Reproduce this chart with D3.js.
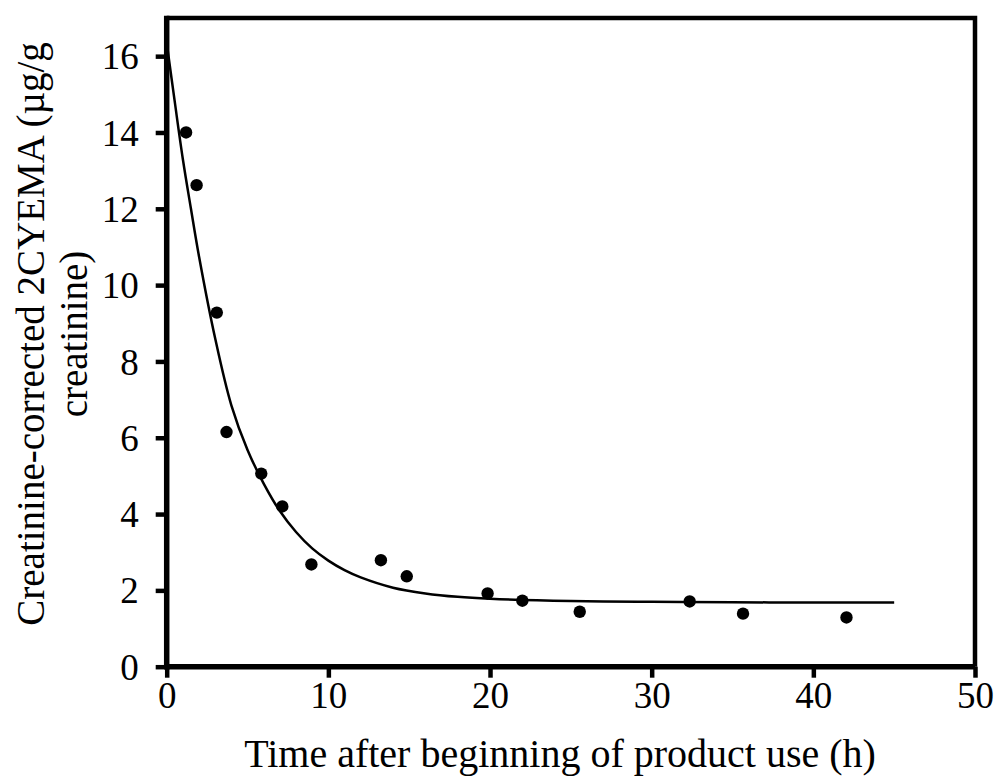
<!DOCTYPE html>
<html>
<head>
<meta charset="utf-8">
<script src="https://d3js.org/d3.v7.min.js"></script>
<style>
    body { margin: 0; background: #fff; }
    text { font-family: "Liberation Serif", "Times New Roman", serif; fill: #000; }
</style>
</head>
<body>
<svg width="995" height="780"></svg>
<script>
// Measured points: time (h) and creatinine-corrected 2CYEMA
var pointTimes = [1.2, 1.85, 3.1, 3.7, 5.85, 7.15, 8.95, 13.25, 14.85, 19.85, 22.0, 25.55, 32.35, 35.65, 42.05];
var pointValues = [14.0, 12.62, 9.28, 6.15, 5.06, 4.2, 2.68, 2.79, 2.37, 1.92, 1.73, 1.44, 1.71, 1.39, 1.29];

// Fitted curve
var curveTimes = [0, 0.5, 1, 1.5, 2, 3, 4, 5, 6, 7, 8, 9, 10, 11, 12, 14, 16, 18, 20, 25, 30, 35, 40, 45];
var curveValues = [16.35, 14.8, 13.3, 12.0, 10.75, 8.6, 6.85, 5.68, 4.8, 4.08, 3.53, 3.1, 2.78, 2.53, 2.34, 2.07, 1.92, 1.83, 1.78, 1.72, 1.7, 1.69, 1.68, 1.68];

// Tick labels
var xTicks = [0, 10, 20, 30, 40, 50];
var yTicks = [0, 2, 4, 6, 8, 10, 12, 14, 16];

var svg = d3.select('svg');

// Plot area in page pixels
var plot = {l: 166.7, r: 975, t: 18, b: 666.7};

var xScale = d3.scaleLinear()
    .domain([0, 50])
    .range([plot.l, plot.r]);

var yScale = d3.scaleLinear()
    .domain([0, 17])
    .range([plot.b, plot.t]);

// Frame on top and right
svg.append('path')
    .attr('d', 'M' + [xScale(0), yScale(17)] + 'H' + xScale(50) + 'V' + yScale(0))
    .attr('fill', 'none')
    .attr('stroke', '#000')
    .attr('stroke-width', 4.5);

// Axes
var xAxis = svg.append('g')
    .attr('transform', 'translate(0,' + plot.b + ')')
    .call(d3.axisBottom(xScale).tickValues(xTicks).tickSize(11).tickPadding(4));

var yAxis = svg.append('g')
    .attr('transform', 'translate(' + plot.l + ',0)')
    .call(d3.axisLeft(yScale).tickValues(yTicks).tickSize(11).tickPadding(17));

[xAxis, yAxis].forEach(function(ax) {
    ax.select('.domain').remove();
    ax.selectAll('.tick line').attr('stroke', '#000').attr('stroke-width', 4.5);
    ax.selectAll('.tick text').style('font-size', '37px');
});
xAxis.selectAll('.tick text').attr('dy', '0.72em');
yAxis.selectAll('.tick text').attr('dy', '0.34em');

// Axis lines drawn on top of the ticks
svg.append('line')
    .attr('x1', xScale(0)).attr('x2', xScale(50))
    .attr('y1', yScale(0)).attr('y2', yScale(0))
    .attr('stroke', '#000').attr('stroke-width', 5.5);
svg.append('line')
    .attr('x1', xScale(0)).attr('x2', xScale(0))
    .attr('y1', yScale(0) + 2.7).attr('y2', yScale(17) - 2.2)
    .attr('stroke', '#000').attr('stroke-width', 5.5);

// Fitted curve
var curveData = curveTimes.map(function(t, i) {
    return {t: t, v: curveValues[i]};
});
var line = d3.line()
    .x(function(d) { return xScale(d.t); })
    .y(function(d) { return yScale(d.v); })
    .curve(d3.curveCatmullRom);

svg.append('path')
    .datum(curveData)
    .attr('d', line)
    .attr('fill', 'none')
    .attr('stroke', '#000')
    .attr('stroke-width', 2.5);

// Data points
svg.selectAll('.dot')
    .data(pointTimes)
    .enter()
    .append('circle')
    .attr('class', 'dot')
    .attr('cx', function(d) { return xScale(d); })
    .attr('cy', function(d, i) { return yScale(pointValues[i]); })
    .attr('r', 6.2)
    .attr('fill', '#000');

// Axis titles
svg.append('text')
    .attr('x', 560)
    .attr('y', 767)
    .attr('text-anchor', 'middle')
    .style('font-size', '40px')
    .text('Time after beginning of product use (h)');

var yTitle = svg.append('text')
    .attr('transform', 'translate(44,334) rotate(-90)')
    .attr('text-anchor', 'middle')
    .style('font-size', '39px');
yTitle.append('tspan')
    .attr('x', 0).attr('y', 0)
    .text('Creatinine-corrected 2CYEMA (µg/g');
yTitle.append('tspan')
    .attr('x', 0).attr('y', 43)
    .text('creatinine)');
</script>
</body>
</html>
